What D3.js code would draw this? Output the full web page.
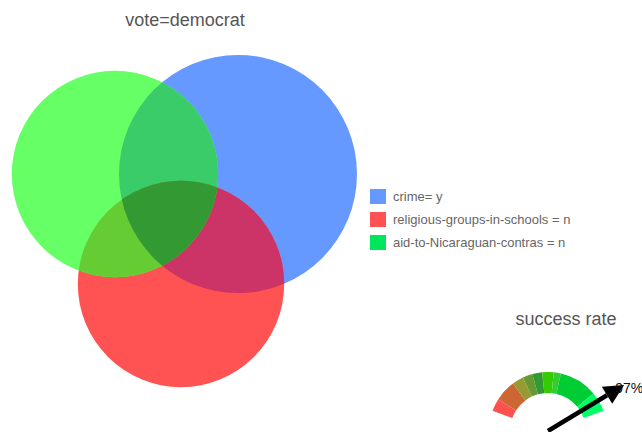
<!DOCTYPE html>
<html>
<head>
<meta charset="utf-8">
<script src="https://cdn.jsdelivr.net/npm/d3@7/dist/d3.min.js"></script>
<style>
  html, body { margin: 0; padding: 0; background: #fff; }
  svg { display: block; font-family: "Liberation Sans", Arial, Helvetica, sans-serif; }
</style>
</head>
<body>
<svg id="chart" width="642" height="432"></svg>
<script>
// ---- data ----
const chartTitle = "vote=democrat";
const setNames = ["crime= y", "religious-groups-in-schools = n", "aid-to-Nicaraguan-contras = n"];
const setSizes = [141, 106, 106];
const setColors = ["#6699ff", "#ff5252", "#66ff66"];
const legendColors = ["#6699ff", "#ff5252", "#00e65c"];
// overlap region colours: [set indices, colour]
const overlapSets = [[0, 2], [0, 1], [1, 2], [0, 1, 2]];
const overlapColors = ["#39cc69", "#cc3366", "#66cc33", "#339933"];

const gaugeTitle = "success rate";
const gaugeValue = 97;
const bandStops = [0, 9, 24, 32, 39, 46, 54, 59, 86, 100];
const bandColors = ["#ff5050", "#cc6633", "#999933", "#669933", "#339933", "#33cc00", "#33cc33", "#00cc33", "#00ff66"];

// ---- layout ----
const svg = d3.select("#chart");
const centers = [[238, 174], [181, 284], [115, 174]];
const radius = d3.scaleSqrt().domain([0, d3.max(setSizes)]).range([0, 119]);

const defs = svg.append("defs");
setSizes.forEach((s, i) => {
  defs.append("clipPath").attr("id", "clip" + i)
    .append("circle")
    .attr("cx", centers[i][0]).attr("cy", centers[i][1]).attr("r", radius(s));
});

// title
svg.append("text").attr("x", 185).attr("y", 26)
  .attr("text-anchor", "middle").attr("font-size", 18).attr("fill", "#555")
  .text(chartTitle);

// circles
const venn = svg.append("g");
venn.selectAll("circle.set").data(setSizes).join("circle")
  .attr("class", "set")
  .attr("cx", (d, i) => centers[i][0]).attr("cy", (d, i) => centers[i][1])
  .attr("r", d => radius(d)).attr("fill", (d, i) => setColors[i]);

// overlaps
overlapSets.forEach((sets, k) => {
  let parent = venn;
  for (let j = 1; j < sets.length; j++) {
    parent = parent.append("g").attr("clip-path", `url(#clip${sets[j]})`);
  }
  const i0 = sets[0];
  parent.append("circle")
    .attr("cx", centers[i0][0]).attr("cy", centers[i0][1])
    .attr("r", radius(setSizes[i0])).attr("fill", overlapColors[k]);
});

// legend
const legendY = d3.scaleBand().domain(setNames).range([189, 189 + 23 * setNames.length]);
const leg = svg.append("g");
leg.selectAll("rect").data(setNames).join("rect")
  .attr("x", 370).attr("y", d => legendY(d)).attr("width", 16).attr("height", 15)
  .attr("fill", (d, i) => legendColors[i]);
leg.selectAll("text").data(setNames).join("text")
  .attr("x", 393).attr("y", d => legendY(d) + 12)
  .attr("font-size", 13).attr("fill", "#666").text(d => d);

// gauge
const gcx = 548, gcy = 431, rOuter = 59, rInner = 38;
const angle = d3.scaleLinear().domain([0, 100]).range([-70 * Math.PI / 180, 70 * Math.PI / 180]);
svg.append("text").attr("x", 566).attr("y", 325)
  .attr("text-anchor", "middle").attr("font-size", 18).attr("fill", "#555")
  .text(gaugeTitle);
const g = svg.append("g").attr("transform", `translate(${gcx},${gcy})`);
const arc = d3.arc().innerRadius(rInner).outerRadius(rOuter);
const bands = bandColors.map((c, i) => ({ startAngle: angle(bandStops[i]), endAngle: angle(bandStops[i + 1]), color: c }));
g.selectAll("path.band").data(bands).join("path")
  .attr("class", "band").attr("d", arc).attr("fill", d => d.color);

// needle
const a = angle(gaugeValue) - 7 * Math.PI / 180;
const len = 89;
const tip = [len * Math.sin(a), -len * Math.cos(a)];
const ux = Math.sin(a), uy = -Math.cos(a);
const headLen = 20, headW = 10;
const base = [tip[0] - ux * headLen, tip[1] - uy * headLen];
g.append("line").attr("x1", 0).attr("y1", 0).attr("x2", base[0]).attr("y2", base[1])
  .attr("stroke", "#000").attr("stroke-width", 4.5);
g.append("path")
  .attr("d", `M${tip[0]},${tip[1]} L${base[0] - uy * headW},${base[1] + ux * headW} L${base[0] + uy * headW},${base[1] - ux * headW} Z`)
  .attr("fill", "#000");
g.append("text").attr("x", tip[0] - 9).attr("y", tip[1] + 8)
  .attr("font-size", 14).attr("fill", "#111").text(gaugeValue + "%");
</script>
</body>
</html>
